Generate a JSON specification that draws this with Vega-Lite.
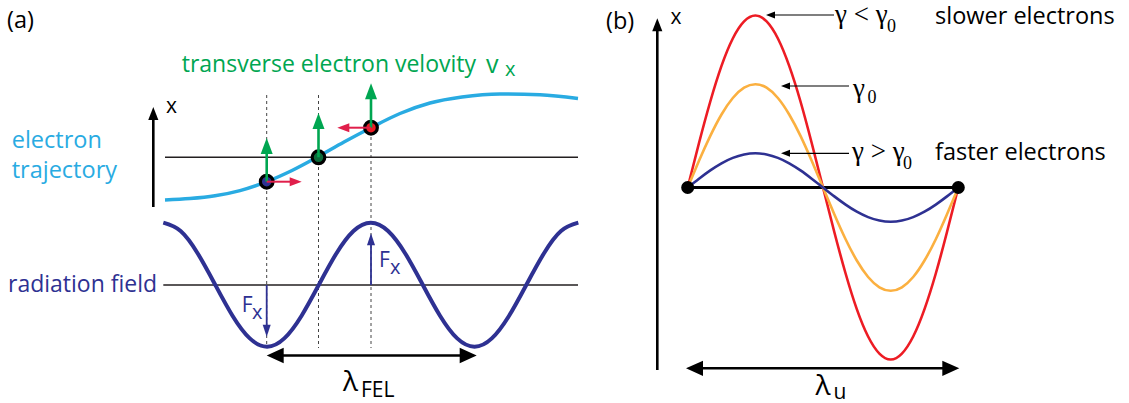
{
  "$schema": "https://vega.github.io/schema/vega-lite/v6.json",
  "width": 1129,
  "height": 403,
  "autosize": {"type": "none"},
  "padding": 0,
  "background": "white",
  "config": {"view": {"stroke": null}},
  "resolve": {"scale": {"color": "independent", "shape": "independent"}},
  "datasets": {
    "traj": [
      {"x": 165, "y": 200}, {"x": 190, "y": 198.6}, {"x": 215, "y": 195.8}, {"x": 240, "y": 190.6},
      {"x": 266.7, "y": 181.7}, {"x": 292, "y": 170.5}, {"x": 317, "y": 157.3}, {"x": 344, "y": 142},
      {"x": 371, "y": 127.7}, {"x": 400, "y": 113.5}, {"x": 430, "y": 103}, {"x": 462, "y": 97},
      {"x": 500, "y": 94}, {"x": 540, "y": 94.8}, {"x": 578, "y": 98.5}
    ],
    "field": [
      {"x": 163.3, "y": 222.7}, {"x": 180.6, "y": 231.0}, {"x": 197.9, "y": 253.7}, {"x": 215.2, "y": 284.7},
      {"x": 232.5, "y": 315.7}, {"x": 249.8, "y": 338.4}, {"x": 267.1, "y": 346.7}, {"x": 284.3, "y": 338.4},
      {"x": 301.6, "y": 315.7}, {"x": 318.9, "y": 284.7}, {"x": 336.2, "y": 253.7}, {"x": 353.5, "y": 231.0},
      {"x": 370.8, "y": 222.7}, {"x": 388.1, "y": 231.0}, {"x": 405.4, "y": 253.7}, {"x": 422.7, "y": 284.7},
      {"x": 440.0, "y": 315.7}, {"x": 457.2, "y": 338.4}, {"x": 474.5, "y": 346.7}, {"x": 491.8, "y": 338.4},
      {"x": 509.1, "y": 315.7}, {"x": 526.4, "y": 284.7}, {"x": 543.7, "y": 253.7}, {"x": 561.0, "y": 231.0},
      {"x": 578.3, "y": 222.7}
    ],
    "orbits": [
      {"g": "slow", "x": 687.7, "y": 187.5}, {"g": "slow", "x": 699.0, "y": 143.0}, {"g": "slow", "x": 710.3, "y": 101.5},
      {"g": "slow", "x": 721.5, "y": 65.9}, {"g": "slow", "x": 732.8, "y": 38.5}, {"g": "slow", "x": 744.1, "y": 21.4},
      {"g": "slow", "x": 755.4, "y": 15.5}, {"g": "slow", "x": 766.6, "y": 21.4}, {"g": "slow", "x": 777.9, "y": 38.5},
      {"g": "slow", "x": 789.2, "y": 65.9}, {"g": "slow", "x": 800.5, "y": 101.5}, {"g": "slow", "x": 811.7, "y": 143.0},
      {"g": "slow", "x": 823.0, "y": 187.5}, {"g": "slow", "x": 834.3, "y": 232.0}, {"g": "slow", "x": 845.6, "y": 273.5},
      {"g": "slow", "x": 856.8, "y": 309.1}, {"g": "slow", "x": 868.1, "y": 336.5}, {"g": "slow", "x": 879.4, "y": 353.6},
      {"g": "slow", "x": 890.7, "y": 359.5}, {"g": "slow", "x": 901.9, "y": 353.6}, {"g": "slow", "x": 913.2, "y": 336.5},
      {"g": "slow", "x": 924.5, "y": 309.1}, {"g": "slow", "x": 935.8, "y": 273.5}, {"g": "slow", "x": 947.0, "y": 232.0},
      {"g": "slow", "x": 958.3, "y": 187.5},
      {"g": "ref", "x": 687.7, "y": 187.5}, {"g": "ref", "x": 699.0, "y": 160.8}, {"g": "ref", "x": 710.3, "y": 135.9},
      {"g": "ref", "x": 721.5, "y": 114.5}, {"g": "ref", "x": 732.8, "y": 98.0}, {"g": "ref", "x": 744.1, "y": 87.7},
      {"g": "ref", "x": 755.4, "y": 84.2}, {"g": "ref", "x": 766.6, "y": 87.7}, {"g": "ref", "x": 777.9, "y": 98.0},
      {"g": "ref", "x": 789.2, "y": 114.5}, {"g": "ref", "x": 800.5, "y": 135.9}, {"g": "ref", "x": 811.7, "y": 160.8},
      {"g": "ref", "x": 823.0, "y": 187.5}, {"g": "ref", "x": 834.3, "y": 214.2}, {"g": "ref", "x": 845.6, "y": 239.2},
      {"g": "ref", "x": 856.8, "y": 260.5}, {"g": "ref", "x": 868.1, "y": 277.0}, {"g": "ref", "x": 879.4, "y": 287.3},
      {"g": "ref", "x": 890.7, "y": 290.8}, {"g": "ref", "x": 901.9, "y": 287.3}, {"g": "ref", "x": 913.2, "y": 277.0},
      {"g": "ref", "x": 924.5, "y": 260.5}, {"g": "ref", "x": 935.8, "y": 239.2}, {"g": "ref", "x": 947.0, "y": 214.2},
      {"g": "ref", "x": 958.3, "y": 187.5},
      {"g": "fast", "x": 687.7, "y": 187.5}, {"g": "fast", "x": 699.0, "y": 178.7}, {"g": "fast", "x": 710.3, "y": 170.4},
      {"g": "fast", "x": 721.5, "y": 163.3}, {"g": "fast", "x": 732.8, "y": 157.9}, {"g": "fast", "x": 744.1, "y": 154.5},
      {"g": "fast", "x": 755.4, "y": 153.3}, {"g": "fast", "x": 766.6, "y": 154.5}, {"g": "fast", "x": 777.9, "y": 157.9},
      {"g": "fast", "x": 789.2, "y": 163.3}, {"g": "fast", "x": 800.5, "y": 170.4}, {"g": "fast", "x": 811.7, "y": 178.7},
      {"g": "fast", "x": 823.0, "y": 187.5}, {"g": "fast", "x": 834.3, "y": 196.4}, {"g": "fast", "x": 845.6, "y": 204.6},
      {"g": "fast", "x": 856.8, "y": 211.7}, {"g": "fast", "x": 868.1, "y": 217.1}, {"g": "fast", "x": 879.4, "y": 220.5},
      {"g": "fast", "x": 890.7, "y": 221.7}, {"g": "fast", "x": 901.9, "y": 220.5}, {"g": "fast", "x": 913.2, "y": 217.1},
      {"g": "fast", "x": 924.5, "y": 211.7}, {"g": "fast", "x": 935.8, "y": 204.6}, {"g": "fast", "x": 947.0, "y": 196.4},
      {"g": "fast", "x": 958.3, "y": 187.5}
    ],
    "segments": [
      {"x": 266.7, "y": 95, "x2": 266.7, "y2": 348, "kind": "guide"},
      {"x": 318.5, "y": 95, "x2": 318.5, "y2": 348, "kind": "guide"},
      {"x": 371, "y": 95, "x2": 371, "y2": 348, "kind": "guide"},
      {"x": 165, "y": 157.3, "x2": 578, "y2": 157.3, "kind": "base"},
      {"x": 163.3, "y": 285, "x2": 578, "y2": 285, "kind": "base"},
      {"x": 153.3, "y": 207, "x2": 153.3, "y2": 115, "kind": "axis"},
      {"x": 657.3, "y": 370, "x2": 657.3, "y2": 26, "kind": "axis"},
      {"x": 275, "y": 355.5, "x2": 468, "y2": 355.5, "kind": "axis"},
      {"x": 694, "y": 368.3, "x2": 951, "y2": 368.3, "kind": "axis"},
      {"x": 687.7, "y": 187.5, "x2": 958.3, "y2": 187.5, "kind": "bline"},
      {"x": 834, "y": 15, "x2": 770, "y2": 15, "kind": "pointer"},
      {"x": 849, "y": 86, "x2": 785, "y2": 86, "kind": "pointer"},
      {"x": 849, "y": 153.3, "x2": 785, "y2": 153.3, "kind": "pointer"},
      {"x": 266.7, "y": 181.7, "x2": 266.7, "y2": 146, "kind": "vel"},
      {"x": 318.5, "y": 157.3, "x2": 318.5, "y2": 121, "kind": "vel"},
      {"x": 371, "y": 127.7, "x2": 371, "y2": 91, "kind": "vel"},
      {"x": 266.7, "y": 181.7, "x2": 296, "y2": 181.7, "kind": "drift"},
      {"x": 371, "y": 127.7, "x2": 343, "y2": 127.7, "kind": "drift"},
      {"x": 266.7, "y": 285, "x2": 266.7, "y2": 330, "kind": "force"},
      {"x": 371, "y": 285, "x2": 371, "y2": 240, "kind": "force"}
    ],
    "heads": [
      {"x": 153.3, "y": 107, "dir": "up", "grp": "axis"},
      {"x": 657.3, "y": 18.3, "dir": "up", "grp": "axis"},
      {"x": 266.7, "y": 355.5, "dir": "left", "grp": "span"},
      {"x": 476.7, "y": 355.5, "dir": "right", "grp": "span"},
      {"x": 686, "y": 368.3, "dir": "left", "grp": "span"},
      {"x": 959.3, "y": 368.3, "dir": "right", "grp": "span"},
      {"x": 766, "y": 15, "dir": "left", "grp": "pointer"},
      {"x": 781, "y": 86, "dir": "left", "grp": "pointer"},
      {"x": 781, "y": 153.3, "dir": "left", "grp": "pointer"},
      {"x": 266.7, "y": 138, "dir": "up", "grp": "vel"},
      {"x": 318.5, "y": 113, "dir": "up", "grp": "vel"},
      {"x": 371, "y": 83.3, "dir": "up", "grp": "vel"},
      {"x": 301.7, "y": 181.7, "dir": "right", "grp": "drift"},
      {"x": 337.3, "y": 127.7, "dir": "left", "grp": "drift"},
      {"x": 266.7, "y": 336.7, "dir": "down", "grp": "force"},
      {"x": 371, "y": 233.3, "dir": "up", "grp": "force"}
    ],
    "electrons": [
      {"x": 266.7, "y": 181.7, "e": "behind"},
      {"x": 318.5, "y": 157.3, "e": "resonant"},
      {"x": 371, "y": 127.7, "e": "ahead"}
    ],
    "ends": [
      {"x": 687.7, "y": 187.5},
      {"x": 958.3, "y": 187.5}
    ],
    "labels": [
      {"x": 7, "y": 28.3, "text": "(a)", "role": "panel"},
      {"x": 606, "y": 28.7, "text": "(b)", "role": "panel"},
      {"x": 166, "y": 112.7, "text": "x", "role": "axislbl"},
      {"x": 670.5, "y": 24, "text": "x", "role": "axislbl"},
      {"x": 11.7, "y": 148.3, "text": "electron", "role": "traj"},
      {"x": 11.7, "y": 178.3, "text": "trajectory", "role": "traj"},
      {"x": 8, "y": 291.7, "text": "radiation field", "role": "field"},
      {"x": 181.7, "y": 72, "text": "transverse electron velovity", "role": "vel"},
      {"x": 486, "y": 72.5, "text": "v", "role": "velv"},
      {"x": 505, "y": 76, "text": "x", "role": "velsub"},
      {"x": 241.7, "y": 311.7, "text": "F", "role": "F"},
      {"x": 252, "y": 318.5, "text": "x", "role": "Fsub"},
      {"x": 379, "y": 266.7, "text": "F", "role": "F"},
      {"x": 390, "y": 273.5, "text": "x", "role": "Fsub"},
      {"x": 835, "y": 23.3, "text": "γ < γ", "role": "gamma"},
      {"x": 887, "y": 32, "text": "0", "role": "gsub"},
      {"x": 853, "y": 97.3, "text": "γ", "role": "gamma"},
      {"x": 867.5, "y": 103, "text": "0", "role": "gsub"},
      {"x": 852, "y": 160, "text": "γ > γ", "role": "gamma"},
      {"x": 903, "y": 169, "text": "0", "role": "gsub"},
      {"x": 935, "y": 24.3, "text": "slower electrons", "role": "elec"},
      {"x": 935, "y": 159.5, "text": "faster electrons", "role": "elec"},
      {"x": 343, "y": 391, "text": "λ", "role": "lam"},
      {"x": 361, "y": 396.5, "text": "FEL", "role": "lamsub"},
      {"x": 815.5, "y": 395, "text": "λ", "role": "lam"},
      {"x": 833.5, "y": 398.5, "text": "u", "role": "lamsub"}
    ]
  },
  "layer": [
    {
      "data": {"name": "segments"},
      "transform": [{"filter": "datum.kind === 'guide'"}],
      "mark": {"type": "rule", "color": "#444444", "strokeWidth": 1, "strokeDash": [3, 3]},
      "encoding": {
        "x": {"field": "x", "type": "quantitative", "scale": {"domain": [0, 1129], "nice": false, "zero": false}, "axis": null},
        "y": {"field": "y", "type": "quantitative", "scale": {"domain": [0, 403], "nice": false, "zero": false, "reverse": true}, "axis": null},
        "x2": {"field": "x2"}, "y2": {"field": "y2"}
      }
    },
    {
      "data": {"name": "segments"},
      "transform": [{"filter": "datum.kind === 'base'"}],
      "mark": {"type": "rule", "color": "#231F20", "strokeWidth": 1.5},
      "encoding": {
        "x": {"field": "x", "type": "quantitative", "axis": null},
        "y": {"field": "y", "type": "quantitative", "axis": null},
        "x2": {"field": "x2"}, "y2": {"field": "y2"}
      }
    },
    {
      "data": {"name": "traj"},
      "mark": {"type": "line", "color": "#29ABE2", "strokeWidth": 3.5, "interpolate": "monotone"},
      "encoding": {
        "x": {"field": "x", "type": "quantitative", "axis": null},
        "y": {"field": "y", "type": "quantitative", "axis": null}
      }
    },
    {
      "data": {"name": "field"},
      "mark": {"type": "line", "color": "#2E3192", "strokeWidth": 4, "interpolate": "natural"},
      "encoding": {
        "x": {"field": "x", "type": "quantitative", "axis": null},
        "y": {"field": "y", "type": "quantitative", "axis": null}
      }
    },
    {
      "data": {"name": "segments"},
      "transform": [{"filter": "datum.kind === 'bline'"}],
      "mark": {"type": "rule", "color": "#000000", "strokeWidth": 3},
      "encoding": {
        "x": {"field": "x", "type": "quantitative", "axis": null},
        "y": {"field": "y", "type": "quantitative", "axis": null},
        "x2": {"field": "x2"}, "y2": {"field": "y2"}
      }
    },
    {
      "data": {"name": "orbits"},
      "mark": {"type": "line", "strokeWidth": 2.6, "interpolate": "natural"},
      "encoding": {
        "x": {"field": "x", "type": "quantitative", "axis": null},
        "y": {"field": "y", "type": "quantitative", "axis": null},
        "color": {"field": "g", "type": "nominal", "legend": null,
          "scale": {"domain": ["fast", "ref", "slow"], "range": ["#2E3192", "#FBB040", "#ED1C24"]}}
      }
    },
    {
      "data": {"name": "ends"},
      "mark": {"type": "circle", "color": "#000000", "size": 170, "opacity": 1},
      "encoding": {
        "x": {"field": "x", "type": "quantitative", "axis": null},
        "y": {"field": "y", "type": "quantitative", "axis": null}
      }
    },
    {
      "data": {"name": "segments"},
      "transform": [{"filter": "datum.kind === 'axis'"}],
      "mark": {"type": "rule", "color": "#000000", "strokeWidth": 2.6},
      "encoding": {
        "x": {"field": "x", "type": "quantitative", "axis": null},
        "y": {"field": "y", "type": "quantitative", "axis": null},
        "x2": {"field": "x2"}, "y2": {"field": "y2"}
      }
    },
    {
      "data": {"name": "segments"},
      "transform": [{"filter": "datum.kind === 'pointer'"}],
      "mark": {"type": "rule", "color": "#000000", "strokeWidth": 1.2},
      "encoding": {
        "x": {"field": "x", "type": "quantitative", "axis": null},
        "y": {"field": "y", "type": "quantitative", "axis": null},
        "x2": {"field": "x2"}, "y2": {"field": "y2"}
      }
    },
    {
      "data": {"name": "segments"},
      "transform": [{"filter": "datum.kind === 'force'"}],
      "mark": {"type": "rule", "color": "#2E3192", "strokeWidth": 1.8},
      "encoding": {
        "x": {"field": "x", "type": "quantitative", "axis": null},
        "y": {"field": "y", "type": "quantitative", "axis": null},
        "x2": {"field": "x2"}, "y2": {"field": "y2"}
      }
    },
    {
      "data": {"name": "electrons"},
      "mark": {"type": "circle", "size": 160, "stroke": "#000000", "strokeWidth": 3.2, "opacity": 1},
      "encoding": {
        "x": {"field": "x", "type": "quantitative", "axis": null},
        "y": {"field": "y", "type": "quantitative", "axis": null},
        "color": {"field": "e", "type": "nominal", "legend": null,
          "scale": {"domain": ["behind", "resonant", "ahead"], "range": ["#2E3192", "#0B6B3A", "#ED1C24"]}}
      }
    },
    {
      "data": {"name": "segments"},
      "transform": [{"filter": "datum.kind === 'vel'"}],
      "mark": {"type": "rule", "color": "#00A651", "strokeWidth": 2.6},
      "encoding": {
        "x": {"field": "x", "type": "quantitative", "axis": null},
        "y": {"field": "y", "type": "quantitative", "axis": null},
        "x2": {"field": "x2"}, "y2": {"field": "y2"}
      }
    },
    {
      "data": {"name": "segments"},
      "transform": [{"filter": "datum.kind === 'drift'"}],
      "mark": {"type": "rule", "color": "#E01F4B", "strokeWidth": 2},
      "encoding": {
        "x": {"field": "x", "type": "quantitative", "axis": null},
        "y": {"field": "y", "type": "quantitative", "axis": null},
        "x2": {"field": "x2"}, "y2": {"field": "y2"}
      }
    },
    {
      "data": {"name": "heads"},
      "transform": [{"filter": "datum.grp === 'axis'"}],
      "mark": {"type": "point", "filled": true, "color": "#000000", "size": 169, "opacity": 1, "strokeWidth": 0},
      "encoding": {
        "x": {"field": "x", "type": "quantitative", "axis": null},
        "y": {"field": "y", "type": "quantitative", "axis": null},
        "shape": {"field": "dir", "type": "nominal", "legend": null,
          "scale": {"domain": ["up", "down", "left", "right"], "range": ["M0,0L0.78,2L-0.78,2Z", "M0,0L0.78,-2L-0.78,-2Z", "M0,0L2,0.78L2,-0.78Z", "M0,0L-2,0.78L-2,-0.78Z"]}}
      }
    },
    {
      "data": {"name": "heads"},
      "transform": [{"filter": "datum.grp === 'span'"}],
      "mark": {"type": "point", "filled": true, "color": "#000000", "size": 289, "opacity": 1, "strokeWidth": 0},
      "encoding": {
        "x": {"field": "x", "type": "quantitative", "axis": null},
        "y": {"field": "y", "type": "quantitative", "axis": null},
        "shape": {"field": "dir", "type": "nominal", "legend": null,
          "scale": {"domain": ["up", "down", "left", "right"], "range": ["M0,0L0.9,2L-0.9,2Z", "M0,0L0.9,-2L-0.9,-2Z", "M0,0L2,0.9L2,-0.9Z", "M0,0L-2,0.9L-2,-0.9Z"]}}
      }
    },
    {
      "data": {"name": "heads"},
      "transform": [{"filter": "datum.grp === 'pointer'"}],
      "mark": {"type": "point", "filled": true, "color": "#000000", "size": 81, "opacity": 1, "strokeWidth": 0},
      "encoding": {
        "x": {"field": "x", "type": "quantitative", "axis": null},
        "y": {"field": "y", "type": "quantitative", "axis": null},
        "shape": {"field": "dir", "type": "nominal", "legend": null,
          "scale": {"domain": ["up", "down", "left", "right"], "range": ["M0,0L0.78,2L-0.78,2Z", "M0,0L0.78,-2L-0.78,-2Z", "M0,0L2,0.78L2,-0.78Z", "M0,0L-2,0.78L-2,-0.78Z"]}}
      }
    },
    {
      "data": {"name": "heads"},
      "transform": [{"filter": "datum.grp === 'vel'"}],
      "mark": {"type": "point", "filled": true, "color": "#00A651", "size": 256, "opacity": 1, "strokeWidth": 0},
      "encoding": {
        "x": {"field": "x", "type": "quantitative", "axis": null},
        "y": {"field": "y", "type": "quantitative", "axis": null},
        "shape": {"field": "dir", "type": "nominal", "legend": null,
          "scale": {"domain": ["up", "down", "left", "right"], "range": ["M0,0L0.75,2L-0.75,2Z", "M0,0L0.75,-2L-0.75,-2Z", "M0,0L2,0.75L2,-0.75Z", "M0,0L-2,0.75L-2,-0.75Z"]}}
      }
    },
    {
      "data": {"name": "heads"},
      "transform": [{"filter": "datum.grp === 'drift'"}],
      "mark": {"type": "point", "filled": true, "color": "#E01F4B", "size": 144, "opacity": 1, "strokeWidth": 0},
      "encoding": {
        "x": {"field": "x", "type": "quantitative", "axis": null},
        "y": {"field": "y", "type": "quantitative", "axis": null},
        "shape": {"field": "dir", "type": "nominal", "legend": null,
          "scale": {"domain": ["up", "down", "left", "right"], "range": ["M0,0L0.75,2L-0.75,2Z", "M0,0L0.75,-2L-0.75,-2Z", "M0,0L2,0.75L2,-0.75Z", "M0,0L-2,0.75L-2,-0.75Z"]}}
      }
    },
    {
      "data": {"name": "heads"},
      "transform": [{"filter": "datum.grp === 'force'"}],
      "mark": {"type": "point", "filled": true, "color": "#2E3192", "size": 144, "opacity": 1, "strokeWidth": 0},
      "encoding": {
        "x": {"field": "x", "type": "quantitative", "axis": null},
        "y": {"field": "y", "type": "quantitative", "axis": null},
        "shape": {"field": "dir", "type": "nominal", "legend": null,
          "scale": {"domain": ["up", "down", "left", "right"], "range": ["M0,0L0.67,2L-0.67,2Z", "M0,0L0.67,-2L-0.67,-2Z", "M0,0L2,0.67L2,-0.67Z", "M0,0L-2,0.67L-2,-0.67Z"]}}
      }
    },
    {
      "data": {"name": "labels"},
      "transform": [{"filter": "datum.role === 'panel' || datum.role === 'elec'"}],
      "mark": {"type": "text", "font": "Open Sans", "fontSize": 23.5, "color": "#000000", "align": "left", "baseline": "alphabetic"},
      "encoding": {
        "x": {"field": "x", "type": "quantitative", "axis": null},
        "y": {"field": "y", "type": "quantitative", "axis": null},
        "text": {"field": "text"}
      }
    },
    {
      "data": {"name": "labels"},
      "transform": [{"filter": "datum.role === 'axislbl'"}],
      "mark": {"type": "text", "font": "Open Sans", "fontSize": 21, "color": "#000000", "align": "left", "baseline": "alphabetic"},
      "encoding": {
        "x": {"field": "x", "type": "quantitative", "axis": null},
        "y": {"field": "y", "type": "quantitative", "axis": null},
        "text": {"field": "text"}
      }
    },
    {
      "data": {"name": "labels"},
      "transform": [{"filter": "datum.role === 'traj'"}],
      "mark": {"type": "text", "font": "Open Sans", "fontSize": 23.5, "color": "#29ABE2", "align": "left", "baseline": "alphabetic"},
      "encoding": {
        "x": {"field": "x", "type": "quantitative", "axis": null},
        "y": {"field": "y", "type": "quantitative", "axis": null},
        "text": {"field": "text"}
      }
    },
    {
      "data": {"name": "labels"},
      "transform": [{"filter": "datum.role === 'field'"}],
      "mark": {"type": "text", "font": "Open Sans", "fontSize": 23, "color": "#2E3192", "align": "left", "baseline": "alphabetic"},
      "encoding": {
        "x": {"field": "x", "type": "quantitative", "axis": null},
        "y": {"field": "y", "type": "quantitative", "axis": null},
        "text": {"field": "text"}
      }
    },
    {
      "data": {"name": "labels"},
      "transform": [{"filter": "datum.role === 'vel'"}],
      "mark": {"type": "text", "font": "Open Sans", "fontSize": 23, "color": "#00A651", "align": "left", "baseline": "alphabetic"},
      "encoding": {
        "x": {"field": "x", "type": "quantitative", "axis": null},
        "y": {"field": "y", "type": "quantitative", "axis": null},
        "text": {"field": "text"}
      }
    },
    {
      "data": {"name": "labels"},
      "transform": [{"filter": "datum.role === 'velv'"}],
      "mark": {"type": "text", "font": "Open Sans", "fontSize": 25, "color": "#00A651", "align": "left", "baseline": "alphabetic"},
      "encoding": {
        "x": {"field": "x", "type": "quantitative", "axis": null},
        "y": {"field": "y", "type": "quantitative", "axis": null},
        "text": {"field": "text"}
      }
    },
    {
      "data": {"name": "labels"},
      "transform": [{"filter": "datum.role === 'velsub'"}],
      "mark": {"type": "text", "font": "Open Sans", "fontSize": 20, "color": "#00A651", "align": "left", "baseline": "alphabetic"},
      "encoding": {
        "x": {"field": "x", "type": "quantitative", "axis": null},
        "y": {"field": "y", "type": "quantitative", "axis": null},
        "text": {"field": "text"}
      }
    },
    {
      "data": {"name": "labels"},
      "transform": [{"filter": "datum.role === 'F'"}],
      "mark": {"type": "text", "font": "Open Sans", "fontSize": 21, "color": "#2E3192", "align": "left", "baseline": "alphabetic"},
      "encoding": {
        "x": {"field": "x", "type": "quantitative", "axis": null},
        "y": {"field": "y", "type": "quantitative", "axis": null},
        "text": {"field": "text"}
      }
    },
    {
      "data": {"name": "labels"},
      "transform": [{"filter": "datum.role === 'Fsub'"}],
      "mark": {"type": "text", "font": "Open Sans", "fontSize": 20, "color": "#2E3192", "align": "left", "baseline": "alphabetic"},
      "encoding": {
        "x": {"field": "x", "type": "quantitative", "axis": null},
        "y": {"field": "y", "type": "quantitative", "axis": null},
        "text": {"field": "text"}
      }
    },
    {
      "data": {"name": "labels"},
      "transform": [{"filter": "datum.role === 'gamma'"}],
      "mark": {"type": "text", "font": "Liberation Serif", "fontSize": 27, "color": "#000000", "align": "left", "baseline": "alphabetic"},
      "encoding": {
        "x": {"field": "x", "type": "quantitative", "axis": null},
        "y": {"field": "y", "type": "quantitative", "axis": null},
        "text": {"field": "text"}
      }
    },
    {
      "data": {"name": "labels"},
      "transform": [{"filter": "datum.role === 'gsub'"}],
      "mark": {"type": "text", "font": "Liberation Serif", "fontSize": 18, "color": "#000000", "align": "left", "baseline": "alphabetic"},
      "encoding": {
        "x": {"field": "x", "type": "quantitative", "axis": null},
        "y": {"field": "y", "type": "quantitative", "axis": null},
        "text": {"field": "text"}
      }
    },
    {
      "data": {"name": "labels"},
      "transform": [{"filter": "datum.role === 'lam'"}],
      "mark": {"type": "text", "font": "Open Sans", "fontSize": 28, "color": "#000000", "align": "left", "baseline": "alphabetic"},
      "encoding": {
        "x": {"field": "x", "type": "quantitative", "axis": null},
        "y": {"field": "y", "type": "quantitative", "axis": null},
        "text": {"field": "text"}
      }
    },
    {
      "data": {"name": "labels"},
      "transform": [{"filter": "datum.role === 'lamsub'"}],
      "mark": {"type": "text", "font": "Open Sans", "fontSize": 21, "color": "#000000", "align": "left", "baseline": "alphabetic"},
      "encoding": {
        "x": {"field": "x", "type": "quantitative", "axis": null},
        "y": {"field": "y", "type": "quantitative", "axis": null},
        "text": {"field": "text"}
      }
    }
  ]
}
